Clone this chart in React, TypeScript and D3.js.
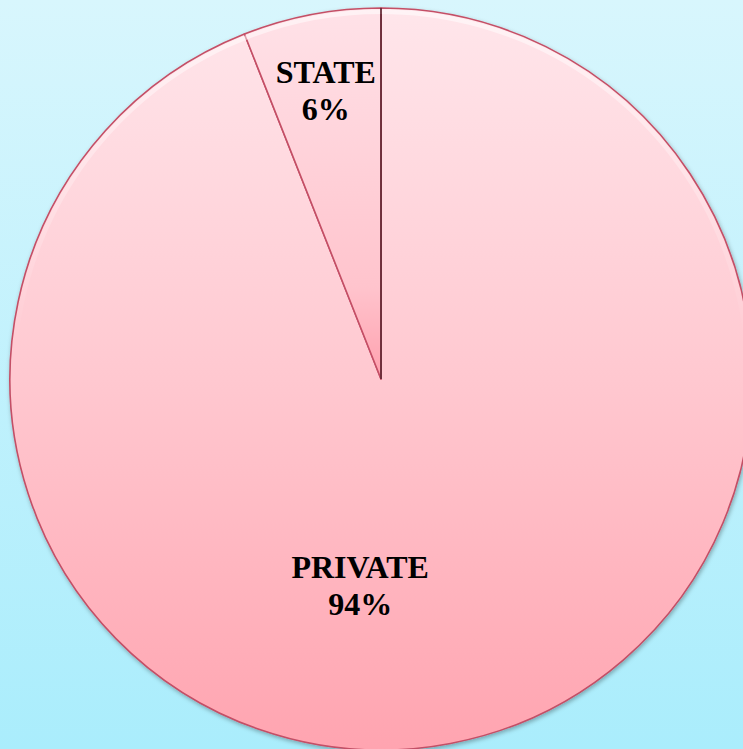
import React from "react";
import * as d3 from "d3";

const categories = ["PRIVATE", "STATE"];
const values = [94, 6];
const valueLabels = ["94%", "6%"];

const W = 743;
const H = 749;

export default function App() {
  const cx = 381;
  const cy = 379;
  const r = 371;
  const pie = d3.pie<number>().sort(null).value((d) => d);
  const arcs = pie(values);
  const arc = d3.arc<d3.PieArcDatum<number>>().innerRadius(0).outerRadius(r);
  const innerArc = d3.arc<d3.PieArcDatum<number>>().innerRadius(r - 6).outerRadius(r - 1.5);
  // label placement: angle offset (deg) from slice mid and radius fraction
  const labelPlace = [
    { dAngle: 16.6, rf: 0.556 },
    { dAngle: 0, rf: 0.795 },
  ];
  const startLine = arcs[0].startAngle;
  return (
    <div style={{ position: "fixed", left: 0, top: 0, width: W, height: H }}>
      <svg width={W} height={H} style={{ display: "block" }}>
        <defs>
          <linearGradient id="bg" x1="0" y1="0" x2="0" y2="1">
            <stop offset="0" stopColor="#d8f6fd" />
            <stop offset="1" stopColor="#aaedfc" />
          </linearGradient>
          <linearGradient id="pf" gradientUnits="userSpaceOnUse" x1="0" y1={-r} x2="0" y2={r}>
            <stop offset="0" stopColor="#ffe6eb" />
            <stop offset="0.5" stopColor="#ffc8d0" />
            <stop offset="1" stopColor="#ffa4b0" />
          </linearGradient>
          <linearGradient id="sf" gradientUnits="userSpaceOnUse" x1="0" y1={-r} x2="0" y2={0}>
            <stop offset="0" stopColor="#ffe2e8" />
            <stop offset="0.75" stopColor="#ffc4cd" />
            <stop offset="1" stopColor="#ffa0ae" />
          </linearGradient>
          <linearGradient id="hl" gradientUnits="userSpaceOnUse" x1="0" y1={-r} x2="0" y2={r}>
            <stop offset="0" stopColor="#ffffff" stopOpacity="0.55" />
            <stop offset="0.45" stopColor="#ffffff" stopOpacity="0" />
            <stop offset="1" stopColor="#ffffff" stopOpacity="0" />
          </linearGradient>
          <filter id="sh" x="-10%" y="-10%" width="120%" height="120%">
            <feDropShadow dx="1" dy="2" stdDeviation="2" floodColor="#000" floodOpacity="0.3" />
          </filter>
        </defs>
        <rect width={W} height={H} fill="url(#bg)" />
        <g transform={`translate(${cx},${cy})`}>
          <g filter="url(#sh)">
            {arcs.map((a, i) => (
              <path
                key={categories[i]}
                d={arc(a) || ""}
                fill={i === 0 ? "url(#pf)" : "url(#sf)"}
                stroke="#c44f66"
                strokeWidth={1.6}
                strokeLinejoin="round"
              />
            ))}
          </g>
          {arcs.map((a, i) => (
            <path key={"hl" + categories[i]} d={innerArc(a) || ""} fill="url(#hl)" />
          ))}
          <line
            x1={0}
            y1={0}
            x2={r * Math.sin(startLine)}
            y2={-r * Math.cos(startLine)}
            stroke="#5a2630"
            strokeWidth={1.6}
          />
          {arcs.map((a, i) => {
            const mid = (a.startAngle + a.endAngle) / 2 + (labelPlace[i].dAngle * Math.PI) / 180;
            const lr = r * labelPlace[i].rf;
            const x = lr * Math.sin(mid);
            const y = -lr * Math.cos(mid);
            return (
              <text
                key={categories[i]}
                x={x}
                y={y}
                textAnchor="middle"
                fontFamily="Liberation Serif, Times New Roman, Times, serif"
                fontWeight="bold"
                fontSize={32}
                fill="#000"
              >
                <tspan x={x} dy={-6}>{categories[i]}</tspan>
                <tspan x={x} dy={37}>{valueLabels[i]}</tspan>
              </text>
            );
          })}
        </g>
      </svg>
    </div>
  );
}
